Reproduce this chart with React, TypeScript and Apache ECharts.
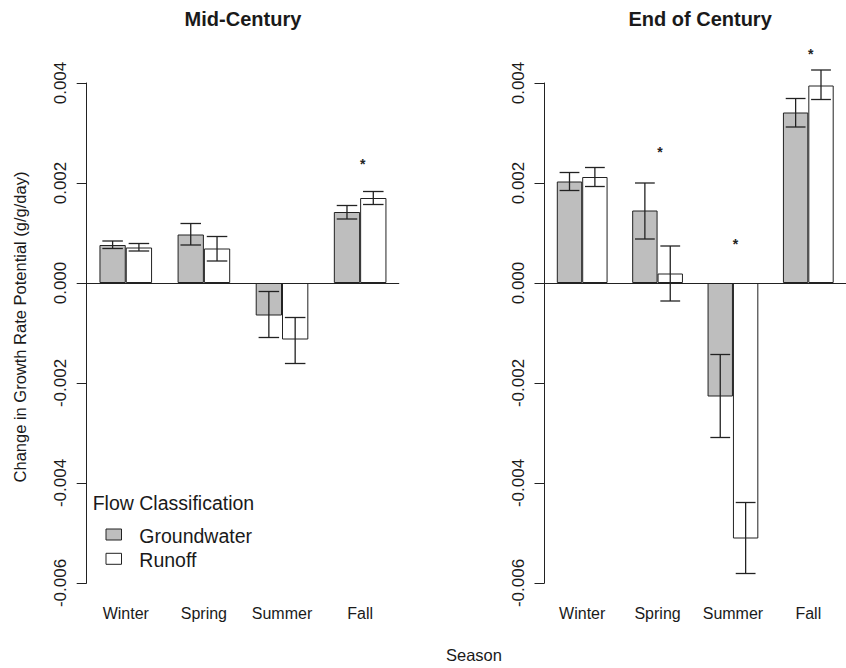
import React, { useEffect, useRef } from "react";
import * as echarts from "echarts";

// Seasons on the x axis and the two flow classes
const seasons = ["Winter", "Spring", "Summer", "Fall"];
const flowNames = ["Groundwater", "Runoff"];
const flowFills = ["#bebebe", "#ffffff"];

// Mid-century change in growth rate potential (g/g/day), mean and error-bar limits
const midGround = [0.00076, 0.00097, -0.00065, 0.00142];
const midGroundLow = [0.00069, 0.00076, -0.00109, 0.00128];
const midGroundHigh = [0.00084, 0.00119, -0.00017, 0.00155];
const midRunoff = [0.00071, 0.00069, -0.00113, 0.0017];
const midRunoffLow = [0.00064, 0.00044, -0.00161, 0.00157];
const midRunoffHigh = [0.00079, 0.00093, -0.00069, 0.00183];
const midSignif = [null, null, null, 0.00245];

// End-of-century change in growth rate potential (g/g/day)
const endGround = [0.00203, 0.00145, -0.00227, 0.00341];
const endGroundLow = [0.00185, 0.00088, -0.00309, 0.00312];
const endGroundHigh = [0.00221, 0.002, -0.00143, 0.00369];
const endRunoff = [0.00212, 0.00019, -0.00511, 0.00395];
const endRunoffLow = [0.00193, -0.00036, -0.00581, 0.00367];
const endRunoffHigh = [0.00231, 0.00074, -0.00439, 0.00426];
const endSignif = [null, 0.00268, 0.00085, 0.00464];

// y axis range and tick step
const yMin = -0.006;
const yMax = 0.004;
const yStep = 0.002;

const FONT = '"Liberation Sans", Arial, Helvetica, sans-serif';
const INK = "#1a1a1a";
const LINE = "#222222";
const BAR_FRAC = 0.3367; // one bar as a fraction of the category band

type Panel = {
  title: string;
  ground: number[];
  groundLow: number[];
  groundHigh: number[];
  runoff: number[];
  runoffLow: number[];
  runoffHigh: number[];
  signif: (number | null)[];
};

const panels: Panel[] = [
  {
    title: "Mid-Century",
    ground: midGround,
    groundLow: midGroundLow,
    groundHigh: midGroundHigh,
    runoff: midRunoff,
    runoffLow: midRunoffLow,
    runoffHigh: midRunoffHigh,
    signif: midSignif,
  },
  {
    title: "End of Century",
    ground: endGround,
    groundLow: endGroundLow,
    groundHigh: endGroundHigh,
    runoff: endRunoff,
    runoffLow: endRunoffLow,
    runoffHigh: endRunoffHigh,
    signif: endSignif,
  },
];

const gridBoxes = [
  { left: 86.7, top: 83, width: 312.5, height: 500 },
  { left: 544.5, top: 83, width: 311.2, height: 500 },
];

function errorBarSeries(g: number, k: number, low: number[], high: number[]) {
  return {
    type: "custom",
    xAxisIndex: g,
    yAxisIndex: g,
    silent: true,
    z: 5,
    data: seasons.map((_, i) => [i, low[i], high[i]]),
    renderItem: (_params: any, api: any) => {
      const i = api.value(0);
      const lo = api.value(1);
      const hi = api.value(2);
      const band = api.size([1, 0])[0];
      const barW = band * BAR_FRAC;
      const cx = api.coord([i, 0])[0] + (k === 0 ? -barW / 2 : barW / 2);
      const y1 = api.coord([i, lo])[1];
      const y2 = api.coord([i, hi])[1];
      const cap = barW * 0.39;
      const st = { stroke: LINE, lineWidth: 1.3 };
      return {
        type: "group",
        children: [
          { type: "line", shape: { x1: cx, y1, x2: cx, y2 }, style: st },
          { type: "line", shape: { x1: cx - cap, y1, x2: cx + cap, y2: y1 }, style: st },
          { type: "line", shape: { x1: cx - cap, y1: y2, x2: cx + cap, y2 }, style: st },
        ],
      };
    },
  };
}

function signifSeries(g: number, signif: (number | null)[]) {
  return {
    type: "custom",
    xAxisIndex: g,
    yAxisIndex: g,
    silent: true,
    z: 6,
    data: signif
      .map((v, i) => [i, v])
      .filter((d) => d[1] !== null),
    renderItem: (_params: any, api: any) => {
      const pt = api.coord([api.value(0), api.value(1)]);
      return {
        type: "text",
        x: pt[0] + 2.5,
        y: pt[1] + 3,
        style: {
          text: "*",
          font: `bold 14px ${FONT}`,
          fill: LINE,
          align: "center",
          verticalAlign: "middle",
          textAlign: "center",
          textVerticalAlign: "middle",
        },
      };
    },
  };
}

function buildOption() {
  const series: any[] = [];
  panels.forEach((p, g) => {
    series.push({
      type: "bar",
      name: flowNames[0],
      xAxisIndex: g,
      yAxisIndex: g,
      data: p.ground,
      barWidth: `${BAR_FRAC * 100}%`,
      barGap: "0%",
      itemStyle: { color: flowFills[0], borderColor: LINE, borderWidth: 1 },
      markLine: {
        silent: true,
        symbol: ["none", "none"],
        label: { show: false },
        lineStyle: { color: LINE, width: 1, type: "solid" },
        data: [{ yAxis: 0 }],
      },
    });
    series.push({
      type: "bar",
      name: flowNames[1],
      xAxisIndex: g,
      yAxisIndex: g,
      data: p.runoff,
      barWidth: `${BAR_FRAC * 100}%`,
      barGap: "0%",
      itemStyle: { color: flowFills[1], borderColor: LINE, borderWidth: 1 },
    });
    series.push(errorBarSeries(g, 0, p.groundLow, p.groundHigh));
    series.push(errorBarSeries(g, 1, p.runoffLow, p.runoffHigh));
    series.push(signifSeries(g, p.signif));
  });

  const titleTexts = panels.map((p, g) => ({
    type: "text",
    x: gridBoxes[g].left + gridBoxes[g].width / 2,
    y: 19,
    style: {
      text: p.title,
      font: `bold 20px ${FONT}`,
      fill: INK,
      align: "center",
      verticalAlign: "middle",
      textAlign: "center",
      textVerticalAlign: "middle",
    },
  }));

  const legendRows = flowNames.flatMap((name, k) => [
    {
      type: "rect",
      shape: { x: 106, y: 529 + k * 24.3, width: 15.5, height: 11 },
      style: { fill: flowFills[k], stroke: LINE, lineWidth: 1 },
    },
    {
      type: "text",
      x: 139.3,
      y: 535.8 + k * 24.3,
      style: {
        text: name,
        font: `19.5px ${FONT}`,
        fill: INK,
        align: "left",
        verticalAlign: "middle",
        textAlign: "left",
        textVerticalAlign: "middle",
      },
    },
  ]);

  return {
    animation: false,
    backgroundColor: "#ffffff",
    grid: gridBoxes.map((b) => ({ ...b, containLabel: false })),
    xAxis: gridBoxes.map((_, g) => ({
      type: "category",
      gridIndex: g,
      data: seasons,
      axisLine: { show: false },
      axisTick: { show: false },
      splitLine: { show: false },
      axisLabel: {
        fontFamily: FONT,
        fontSize: 16,
        color: INK,
        margin: 22,
        interval: 0,
      },
    })),
    yAxis: gridBoxes.map((_, g) => ({
      type: "value",
      gridIndex: g,
      min: yMin,
      max: yMax,
      interval: yStep,
      splitLine: { show: false },
      axisLine: { show: true, lineStyle: { color: LINE, width: 1 } },
      axisTick: { show: true, length: 10, lineStyle: { color: LINE, width: 1 } },
      axisLabel: {
        rotate: 90,
        margin: 18,
        fontFamily: FONT,
        fontSize: 17,
        color: INK,
        formatter: (v: number) => (Math.abs(v) < 1e-12 ? 0 : v).toFixed(3),
      },
    })),
    series,
    graphic: [
      ...titleTexts,
      {
        type: "text",
        x: 19.5,
        y: 327,
        rotation: Math.PI / 2,
        style: {
          text: "Change in Growth Rate Potential (g/g/day)",
          font: `16.5px ${FONT}`,
          fill: INK,
          align: "center",
          verticalAlign: "middle",
          textAlign: "center",
          textVerticalAlign: "middle",
        },
      },
      {
        type: "text",
        x: 474,
        y: 655,
        style: {
          text: "Season",
          font: `16.5px ${FONT}`,
          fill: INK,
          align: "center",
          verticalAlign: "middle",
          textAlign: "center",
          textVerticalAlign: "middle",
        },
      },
      {
        type: "text",
        x: 92.7,
        y: 502.7,
        style: {
          text: "Flow Classification",
          font: `19.5px ${FONT}`,
          fill: INK,
          align: "left",
          verticalAlign: "middle",
          textAlign: "left",
          textVerticalAlign: "middle",
        },
      },
      ...legendRows,
    ],
  };
}

export default function App() {
  const ref = useRef<HTMLDivElement>(null);
  useEffect(() => {
    if (!ref.current) return;
    const chart = echarts.init(ref.current, undefined, { renderer: "svg" });
    chart.setOption(buildOption() as any);
    return () => chart.dispose();
  }, []);
  return (
    <div
      ref={ref}
      style={{
        position: "fixed",
        left: 0,
        top: 0,
        width: 846,
        height: 668,
        background: "#ffffff",
        overflow: "hidden",
      }}
    />
  );
}
